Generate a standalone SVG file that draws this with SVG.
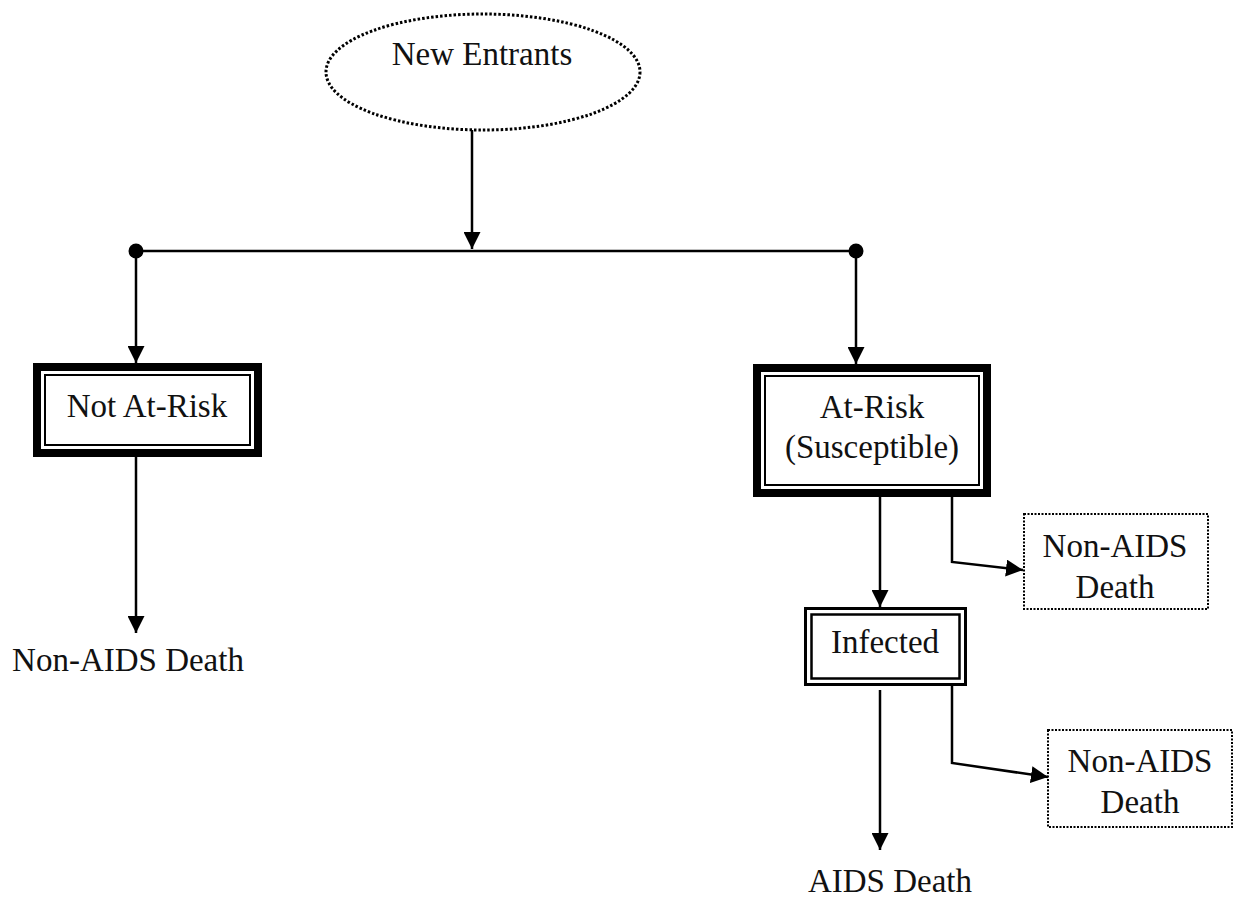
<svg xmlns="http://www.w3.org/2000/svg" width="1241" height="899" viewBox="0 0 1241 899">
<style>
text{font-family:"Liberation Serif","Times New Roman",serif;font-size:33px;fill:#111;text-anchor:middle}
.ln{stroke:#000;stroke-width:2.5;fill:none}
.thick{stroke:#000;stroke-width:8;fill:#fff}
.thin{stroke:#000;stroke-width:2;fill:none}
.dot{stroke:#000;stroke-width:2;stroke-dasharray:2 1.5;fill:#fff}
</style>
<defs>
<marker id="ah" markerUnits="userSpaceOnUse" markerWidth="17" markerHeight="17" refX="17" refY="8.5" orient="auto">
<path d="M0,0 L17,8.5 L0,17 z" fill="#000"/>
</marker>
</defs>
<rect width="1241" height="899" fill="#fff"/>
<g id="connectors">
<line class="ln" x1="472" y1="130" x2="472" y2="249" marker-end="url(#ah)"/>
<line class="ln" x1="136" y1="251" x2="856" y2="251"/>
<circle cx="136" cy="251" r="7.5" fill="#000"/>
<circle cx="856" cy="251" r="7.5" fill="#000"/>
<line class="ln" x1="136" y1="251" x2="136" y2="363" marker-end="url(#ah)"/>
<line class="ln" x1="856" y1="251" x2="856" y2="364" marker-end="url(#ah)"/>
<line class="ln" x1="136" y1="457" x2="136" y2="633" marker-end="url(#ah)"/>
<line class="ln" x1="880" y1="497" x2="880" y2="607" marker-end="url(#ah)"/>
<polyline class="ln" points="952,497 952,562 1023,570" marker-end="url(#ah)"/>
<line class="ln" x1="880" y1="690" x2="880" y2="850" marker-end="url(#ah)"/>
<polyline class="ln" points="952,681 952,763 1048,777" marker-end="url(#ah)"/>
</g>
<g id="new-entrants">
<ellipse cx="483" cy="72" rx="157" ry="58" fill="#fff" stroke="#000" stroke-width="3" stroke-dasharray="2.5 2"/>
<text x="482" y="65">New Entrants</text>
</g>
<g id="not-at-risk">
<rect class="thick" x="37" y="367" width="221" height="86"/>
<rect class="thin" x="45" y="375" width="205" height="70"/>
<text x="147" y="417">Not At-Risk</text>
</g>
<g id="non-aids-death-left">
<text x="128" y="671">Non-AIDS Death</text>
</g>
<g id="at-risk">
<rect class="thick" x="757" y="368" width="230" height="125"/>
<rect class="thin" x="765" y="376" width="214" height="109"/>
<text x="872" y="418">At-Risk</text>
<text x="872" y="458">(Susceptible)</text>
</g>
<g id="non-aids-death-1">
<rect class="dot" x="1024" y="514" width="184" height="95"/>
<text x="1115" y="557">Non-AIDS</text>
<text x="1115" y="598">Death</text>
</g>
<g id="infected">
<rect x="805.5" y="608.5" width="160" height="76" fill="#fff" stroke="#000" stroke-width="3"/>
<rect x="811.5" y="614.5" width="148" height="64" fill="none" stroke="#000" stroke-width="2.5"/>
<text x="885" y="653">Infected</text>
</g>
<g id="non-aids-death-2">
<rect class="dot" x="1048" y="730" width="184" height="97"/>
<text x="1140" y="772">Non-AIDS</text>
<text x="1140" y="813">Death</text>
</g>
<g id="aids-death">
<text x="890" y="892">AIDS Death</text>
</g>
</svg>
